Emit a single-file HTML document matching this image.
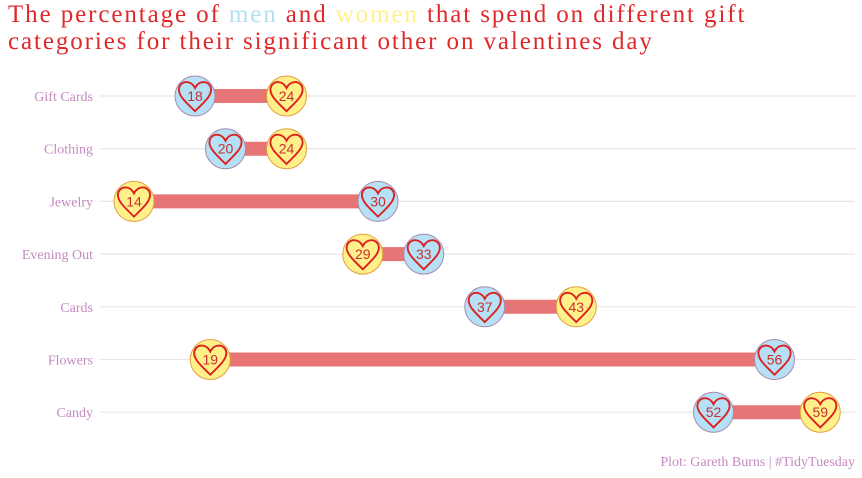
<!DOCTYPE html>
<html><head><meta charset="utf-8"><style>
body{margin:0;background:#fff;width:862px;height:478px;overflow:hidden;font-family:"Liberation Sans",sans-serif}
#title{position:absolute;left:8px;top:1px;font-size:25px;line-height:27px;color:#e0282a;font-family:"Liberation Serif",serif;letter-spacing:1.9px;white-space:nowrap}
</style></head><body>
<div id="title">The percentage of <span style="color:#b3dff5">men</span> and <span style="color:#fff28a">women</span> that spend on different gift<br>categories for their significant other on valentines day</div>
<svg id="chart" width="862" height="478" style="position:absolute;left:0;top:0"></svg>
<script>
const categories=["Gift Cards","Clothing","Jewelry","Evening Out","Cards","Flowers","Candy"];
const menValues=[18,20,30,33,37,56,52];
const womenValues=[24,24,14,29,43,19,59];
const NS="http://www.w3.org/2000/svg";
const svg=document.getElementById("chart");
function xs(v){return 195+(v-18)*15.25;}
function ys(i){return 96+i*52.7;}
function mk(t,a,p){const e=document.createElementNS(NS,t);for(const k in a)e.setAttribute(k,a[k]);(p||svg).appendChild(e);return e;}
const heart="M0,10 C-6,4 -12,-1 -11,-6 C-10,-11 -3,-12 0,-6 C3,-12 10,-11 11,-6 C12,-1 6,4 0,10 Z";
function marker(v,i,men){
  const g=mk("g",{transform:`translate(${xs(v)},${ys(i)})`});
  
  
  mk("circle",{r:20,fill:men?"#b5e0f5":"#fff08a",stroke:men?"#a88bb0":"#e0a040","stroke-width":1},g);
  mk("path",{d:heart,transform:"scale(1.45) translate(0,0.5)",fill:"none",stroke:"#dd2020","stroke-width":1.3},g);
  const t=mk("text",{x:0,y:5,"text-anchor":"middle","font-size":14,fill:"#c83030"},g);t.textContent=v;
}
categories.forEach((c,i)=>{
  const y=ys(i);
  const gl=mk("line",{x1:100,x2:855,y1:y,y2:y,stroke:"#e6e6e6","stroke-width":1.2});
  
  
  const lb=mk("text",{x:93,y:y+5,"text-anchor":"end","font-size":14,fill:"#c58ac0","font-family":"Liberation Serif,serif"});
  lb.textContent=c;
  
  
  const b=mk("line",{x1:xs(menValues[i]),x2:xs(womenValues[i]),y1:y,y2:y,stroke:"#e87575","stroke-width":14});
  
  
});
categories.forEach((c,i)=>{marker(menValues[i],i,true);marker(womenValues[i],i,false);});
const cap=mk("text",{x:855,y:466,"text-anchor":"end","font-size":14,fill:"#c58ac0","font-family":"Liberation Serif,serif"});
cap.textContent="Plot: Gareth Burns | #TidyTuesday";


</script>
</body></html>
